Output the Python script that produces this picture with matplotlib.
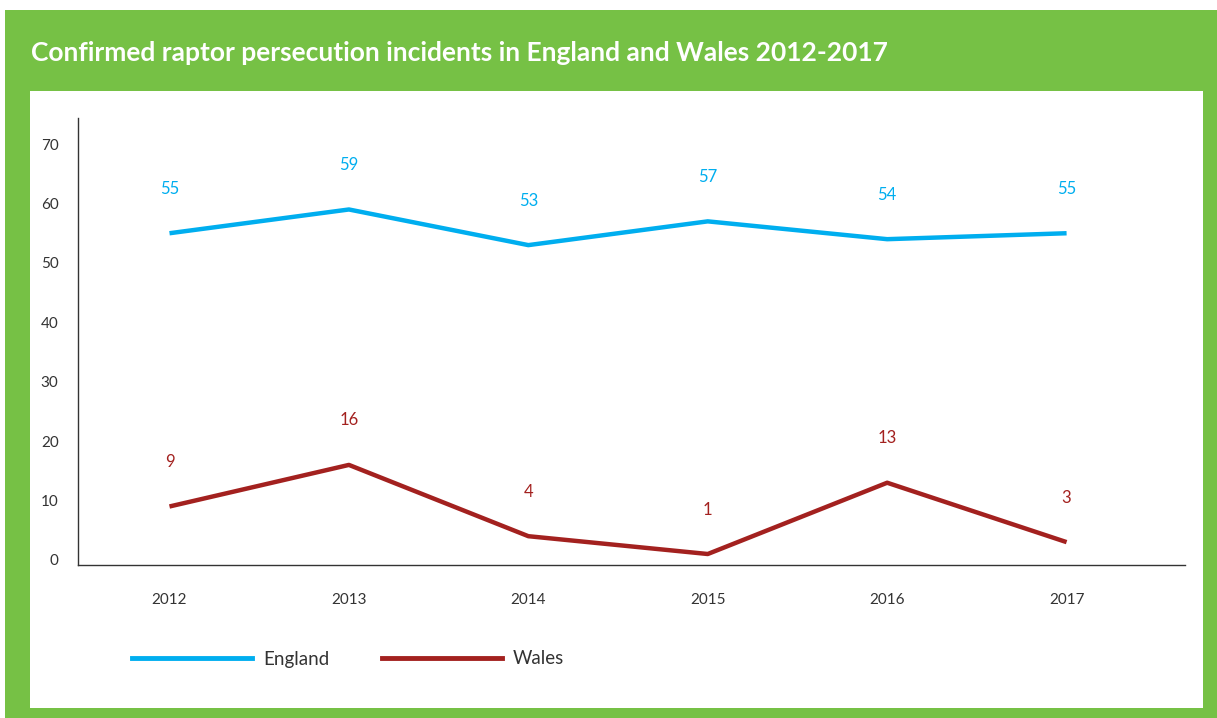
import matplotlib
matplotlib.use("Agg")
import matplotlib.pyplot as plt
from matplotlib.patches import Rectangle
from matplotlib.lines import Line2D

years = ["2012", "2013", "2014", "2015", "2016", "2017"]
england = [55, 59, 53, 57, 54, 55]
wales = [9, 16, 4, 1, 13, 3]
yticks = [0, 10, 20, 30, 40, 50, 60, 70]

title = "Confirmed raptor persecution incidents in England and Wales 2012-2017"
c_eng = "#00AEEF"
c_wal = "#A3211F"
green = "#76C145"
txt = "#333333"

plt.rcParams['font.family'] = ['Lato', 'DejaVu Sans']

W, H = 1217, 718
fig = plt.figure(figsize=(W / 100, H / 100), dpi=100)
fig.patch.set_facecolor("white")

def px(x, y, w, h):
    return (x / W, 1 - (y + h) / H, w / W, h / H)

fig.patches.append(Rectangle((5 / W, 0), 1, 1 - 10 / H, transform=fig.transFigure,
                             facecolor=green, edgecolor="none", zorder=-10))
x0, y0, w0, h0 = px(30, 91, 1173, 617)
fig.patches.append(Rectangle((x0, y0), w0, h0, transform=fig.transFigure,
                             facecolor="white", edgecolor="none", zorder=-9))
fig.text(31 / W, 1 - 53 / H, title, color="white", fontsize=19, fontweight="bold",
         va="center", ha="left")

ax = fig.add_axes(px(78, 118, 1107, 447))
ax.set_zorder(5)
ax.set_facecolor("none")
x = list(range(len(years)))
ax.plot(x, england, color=c_eng, lw=3.2, solid_capstyle="butt")
ax.plot(x, wales, color=c_wal, lw=3.2, solid_capstyle="butt")
for xi, v in zip(x, england):
    ax.annotate(str(v), (xi, v), xytext=(0, 32), textcoords="offset points",
                ha="center", va="center", color=c_eng, fontsize=12)
for xi, v in zip(x, wales):
    ax.annotate(str(v), (xi, v), xytext=(0, 32), textcoords="offset points",
                ha="center", va="center", color=c_wal, fontsize=12)

ax.set_xlim(-0.51, 5.66)
ax.set_ylim(-0.85, 74.4)
ax.set_yticks(yticks)
ax.set_yticklabels([str(t) for t in yticks])
ax.set_xticks(x)
ax.set_xticklabels(years)
ax.tick_params(axis="both", length=0, labelsize=11, colors=txt)
ax.tick_params(axis="y", pad=14)
ax.tick_params(axis="x", pad=20)
for s in ["top", "right"]:
    ax.spines[s].set_visible(False)
for s in ["left", "bottom"]:
    ax.spines[s].set_color("#333333")
    ax.spines[s].set_linewidth(1.0)

handles = [Line2D([], [], color=c_eng, lw=3.5), Line2D([], [], color=c_wal, lw=3.5)]
leg = fig.legend(handles, ["England", "Wales"], loc="center left",
                 bbox_to_anchor=(115 / W, 1 - 659 / H), ncol=2, frameon=False,
                 handlelength=6.4, handletextpad=0.6, columnspacing=2.8,
                 fontsize=13.5)
for t in leg.get_texts():
    t.set_color(txt)

fig.savefig("out.png", dpi=100)
